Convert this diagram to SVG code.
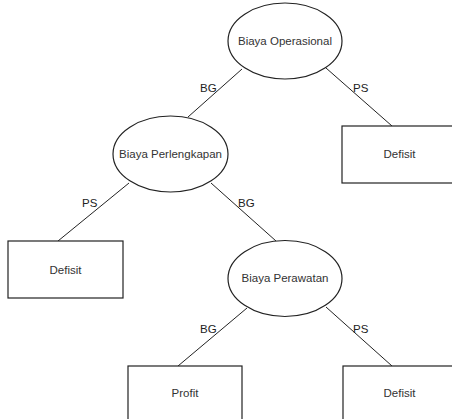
<svg xmlns="http://www.w3.org/2000/svg" width="452" height="419" viewBox="0 0 452 419">
<style>
.shape{fill:#fff;stroke:#222;stroke-width:1.2}
.edge{stroke:#222;stroke-width:1;fill:none}
.t{font-family:"Liberation Sans",Arial,sans-serif;font-size:11.5px;fill:#333;text-anchor:middle}
.lbl{font-family:"Liberation Sans",Arial,sans-serif;font-size:11.5px;fill:#222}
</style>
<rect width="452" height="419" fill="#fff"/>
<g id="connectors">
<line class="edge" x1="242" y1="69" x2="188" y2="117"/>
<line class="edge" x1="326" y1="68" x2="392" y2="126"/>
<line class="edge" x1="129" y1="183" x2="58" y2="241"/>
<line class="edge" x1="211" y1="183" x2="276" y2="241"/>
<line class="edge" x1="247" y1="308" x2="178" y2="366"/>
<line class="edge" x1="326" y1="307" x2="392" y2="366"/>
<text class="lbl" x="200" y="92">BG</text>
<text class="lbl" x="353" y="92">PS</text>
<text class="lbl" x="82" y="207">PS</text>
<text class="lbl" x="238" y="207">BG</text>
<text class="lbl" x="200" y="333">BG</text>
<text class="lbl" x="353" y="333">PS</text>
</g>
<g id="biaya-operasional">
<ellipse class="shape" cx="285" cy="41" rx="57" ry="38"/>
<text class="t" x="285" y="45">Biaya Operasional</text>
</g>
<g id="biaya-perlengkapan">
<ellipse class="shape" cx="170.5" cy="154" rx="57.5" ry="38"/>
<text class="t" x="170.5" y="158">Biaya Perlengkapan</text>
</g>
<g id="defisit-1">
<rect class="shape" x="342" y="126" width="115" height="57"/>
<text class="t" x="399.5" y="158">Defisit</text>
</g>
<g id="defisit-2">
<rect class="shape" x="8" y="241" width="115" height="57"/>
<text class="t" x="65.5" y="274">Defisit</text>
</g>
<g id="biaya-perawatan">
<ellipse class="shape" cx="285" cy="278.5" rx="57" ry="38"/>
<text class="t" x="285" y="282">Biaya Perawatan</text>
</g>
<g id="profit">
<rect class="shape" x="128" y="366" width="114" height="57"/>
<text class="t" x="185" y="397">Profit</text>
</g>
<g id="defisit-3">
<rect class="shape" x="343" y="366" width="114" height="57"/>
<text class="t" x="399.5" y="397">Defisit</text>
</g>
</svg>
